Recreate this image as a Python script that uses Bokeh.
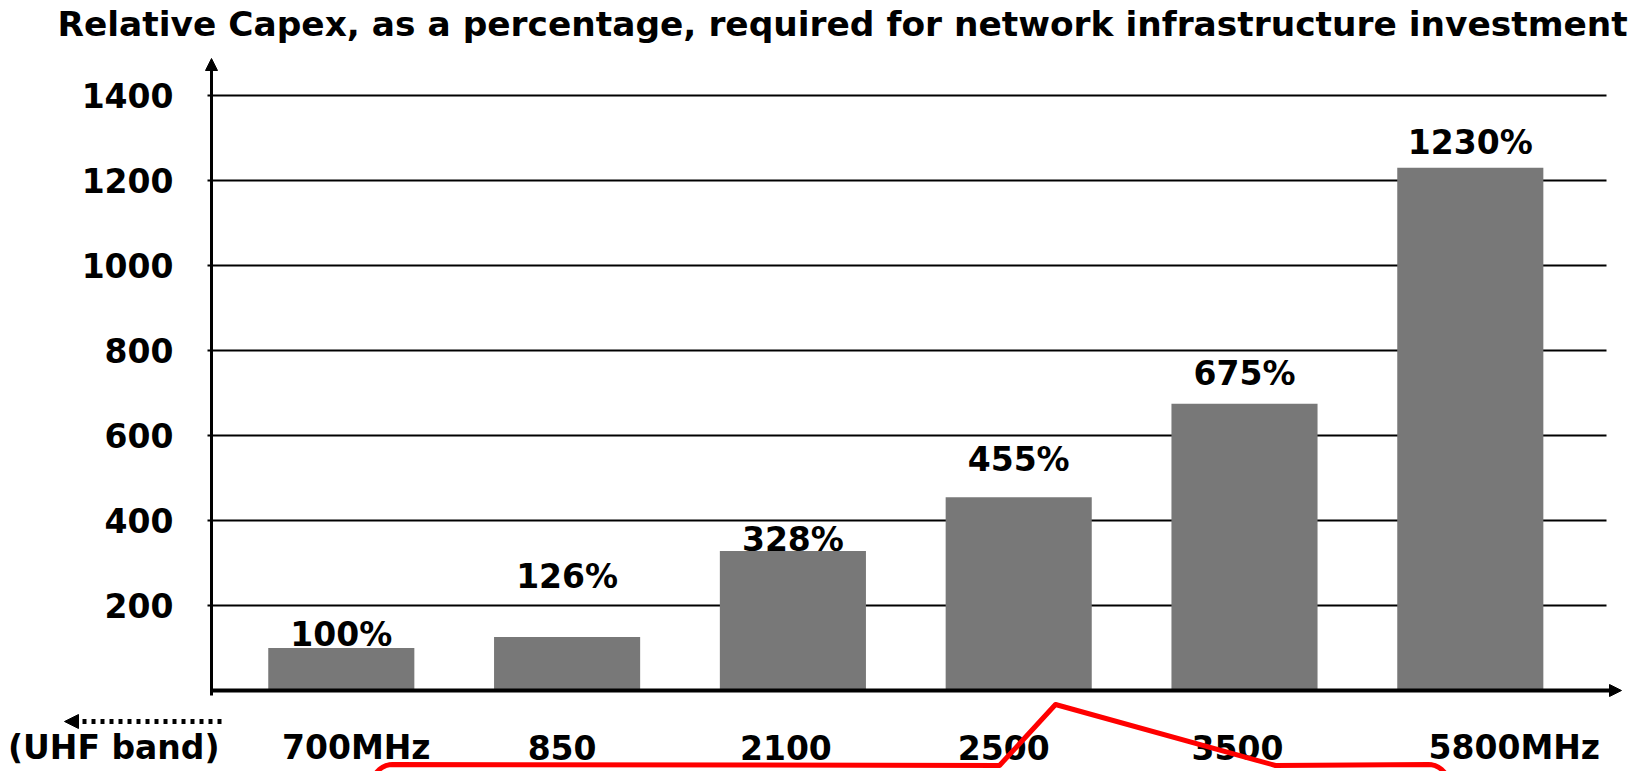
import numpy as np
from bokeh.plotting import figure
from bokeh.models import (ColumnDataSource, FixedTicker, Arrow, NormalHead,
                          LinearAxis, Range1d)
from bokeh.core.properties import value
from bokeh.embed import file_html
from bokeh.resources import INLINE

# ---------------- data ----------------
title_text = "Relative Capex, as a percentage, required for network infrastructure investment"
bands = ["700MHz", "850", "2100", "2500", "3500", "5800MHz"]
capex_pct = [100, 126, 328, 455, 675, 1230]
value_labels = ["100%", "126%", "328%", "455%", "675%", "1230%"]
y_ticks = [200, 400, 600, 800, 1000, 1200, 1400]
uhf_note = "(UHF band)"

# ---------------- styling ----------------
FONT_NAME = "DejaVu Sans"
FONT = value(FONT_NAME)
FS = "33px"
BAR_COLOR = "#787878"
label_dy = [-14, -60, -12, -38, -30, -25]   # pixel nudges of value labels
band_dx = [15, -5, -7, -15, -7, 44]         # pixel nudges of band labels

# page-pixel -> data helpers (layout only)
PX0, PXS = 340.8, 225.8      # page x of first bar centre, px per category
PY0, PYS = 690.0, 0.425      # page y of zero line, px per percent
def dx(px):
    return (px - PX0) / PXS
def dy(py):
    return (PY0 - py) / PYS

W, H = 1648, 771
p = figure(width=W, height=H, output_backend="svg", toolbar_location=None,
           x_range=Range1d(dx(0), dx(W)), y_range=Range1d(dy(H), dy(0)),
           x_axis_location=None, y_axis_location=None, min_border=0,
           outline_line_color=None, background_fill_color="white",
           border_fill_color="white")
p.xgrid.visible = False
p.ygrid.visible = False

xs = list(range(len(bands)))
yaxis_x = dx(211)
grid_end = dx(1606)

# y axis (ticks + labels) fixed at the chart's origin
yaxis = LinearAxis(fixed_location=yaxis_x, ticker=FixedTicker(ticks=y_ticks),
                   axis_line_alpha=0, major_tick_out=4, major_tick_in=0,
                   major_tick_line_width=2, minor_tick_out=0, minor_tick_in=0,
                   major_label_standoff=34,
                   major_label_text_font=FONT_NAME, major_label_text_font_style="bold",
                   major_label_text_font_size=FS, major_label_text_color="black")
p.add_layout(yaxis, "left")

# horizontal grid lines
p.segment(x0=[yaxis_x] * len(y_ticks), x1=[grid_end] * len(y_ticks),
          y0=y_ticks, y1=y_ticks, line_color="black", line_width=2)

# bars
src = ColumnDataSource(dict(x=xs, top=capex_pct, lab=value_labels, dyo=label_dy,
                            band=bands, bdx=band_dx, zero=[0] * len(xs)))
p.vbar(x="x", top="top", bottom=0, width=0.647, source=src,
       fill_color=BAR_COLOR, line_color=None)

# value labels
p.text(x="x", y="top", text="lab", y_offset="dyo", source=src,
       text_font=FONT, text_font_style="bold", text_font_size=FS,
       text_align="center", text_baseline="middle", text_color="black")

# band (category) labels under the axis
p.text(x="x", y="zero", text="band", x_offset="bdx", y_offset=57, source=src,
       text_font=FONT, text_font_style="bold", text_font_size=FS,
       text_align="center", text_baseline="middle", text_color="black")

# axes lines with arrows
p.add_layout(Arrow(end=NormalHead(size=12, fill_color="black", line_color="black"),
                   x_start=yaxis_x, y_start=dy(695), x_end=yaxis_x, y_end=dy(58),
                   line_width=3, line_color="black"))
p.add_layout(Arrow(end=NormalHead(size=12, fill_color="black", line_color="black"),
                   x_start=yaxis_x, y_start=0, x_end=dx(1621), y_end=0,
                   line_width=4, line_color="black"))

# dotted arrow + UHF note
p.add_layout(Arrow(end=NormalHead(size=14, fill_color="black", line_color="black"),
                   x_start=dx(221), y_start=dy(721), x_end=dx(64), y_end=dy(721),
                   line_width=5, line_color="black", line_dash="4 5"))
p.text(x=[dx(219)], y=[dy(747)], text=[uhf_note], text_font=FONT,
       text_font_style="bold", text_font_size=FS, text_align="right",
       text_baseline="middle", text_color="black")

# title
p.text(x=[dx(57)], y=[dy(23)], text=[title_text], text_font=FONT,
       text_font_style="bold", text_font_size="34.4px", text_align="left",
       text_baseline="middle", text_color="black")

# red callout pointing at the 2500 bar
def arc(cx, cy, r, a0, a1, n=10):
    t = np.linspace(np.radians(a0), np.radians(a1), n)
    return list(cx + r * np.cos(t)), list(cy - r * np.sin(t))
ax1, ay1 = arc(392, 784, 20, 180, 90)
ax2, ay2 = arc(1428, 784, 20, 90, 0)
cx_px = [372] + ax1 + [999, 1055, 1275] + ax2 + [1448]
cy_px = [800] + ay1 + [765, 704, 765] + ay2 + [800]
p.line(x=[dx(v) for v in cx_px], y=[dy(v) for v in cy_px],
       line_color="#ff0000", line_width=5, line_join="round")

open("out.html", "w").write(file_html(p, INLINE))
